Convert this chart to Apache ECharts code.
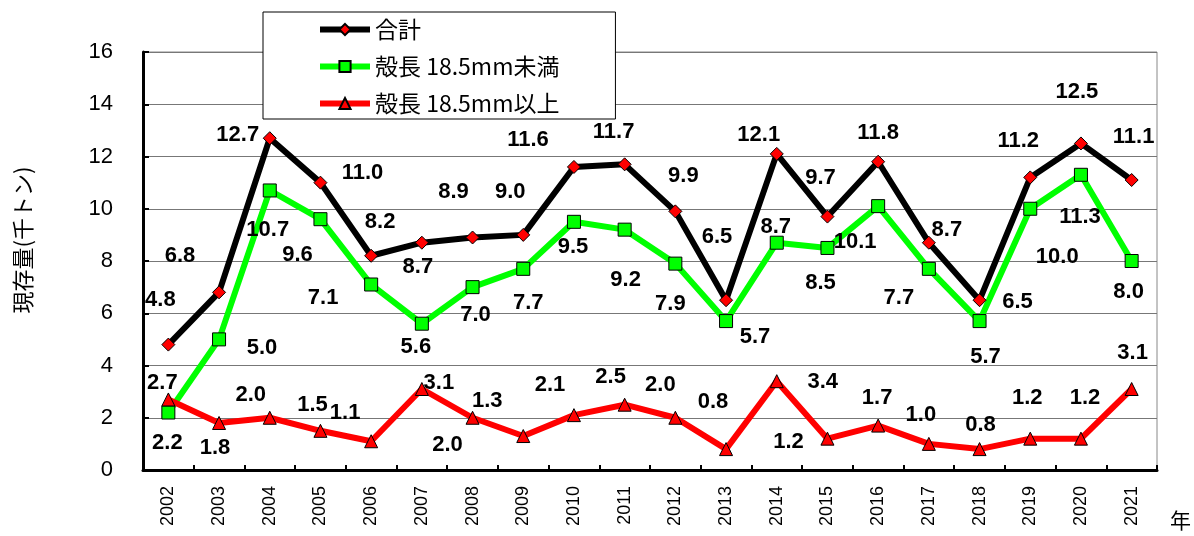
<!DOCTYPE html>
<html>
<head>
<meta charset="utf-8">
<script src="https://cdn.jsdelivr.net/npm/echarts@6/dist/echarts.min.js"></script>
<style>
    html, body { margin: 0; padding: 0; background: #fff; }
    #chart { width: 1194px; height: 536px; }
</style>
</head>
<body>
<div id="chart"></div>
<script>
    // data (千トン)
    const years = ['2002', '2003', '2004', '2005', '2006', '2007', '2008', '2009', '2010', '2011',
        '2012', '2013', '2014', '2015', '2016', '2017', '2018', '2019', '2020', '2021']
    const total = [4.8, 6.8, 12.7, 11.0, 8.2, 8.7, 8.9, 9.0, 11.6, 11.7,
        9.9, 6.5, 12.1, 9.7, 11.8, 8.7, 6.5, 11.2, 12.5, 11.1]
    const small = [2.2, 5.0, 10.7, 9.6, 7.1, 5.6, 7.0, 7.7, 9.5, 9.2,
        7.9, 5.7, 8.7, 8.5, 10.1, 7.7, 5.7, 10.0, 11.3, 8.0]
    const large = [2.7, 1.8, 2.0, 1.5, 1.1, 3.1, 2.0, 1.3, 2.1, 2.5,
        2.0, 0.8, 3.4, 1.2, 1.7, 1.0, 0.8, 1.2, 1.2, 3.1]
    const seriesNames = ['合計', '殻長 18.5mm未満', '殻長 18.5mm以上']
    const yTicks = [0, 2, 4, 6, 8, 10, 12, 14, 16]

    // where each value label sits relative to its point (px), as in the original
    const totalLabelOffset = [[-8, -45], [-39, -36], [-32, -3], [42, -10], [9, -34], [-4, 24], [-19, -46], [-13, -43], [-46, -27], [-11, -32],
        [8, -35], [-9, -63], [-18, -19], [-7, -39], [0, -29], [18, -13], [38, 2], [-12, -36], [-4, -52], [2, -43]]
    const smallLabelOffset = [[-1, 30], [43, 9], [-2, 39], [-23, 36], [-48, 13], [-6, 23], [3, 28], [5, 34], [-1, 25], [1, 50],
        [-5, 40], [29, 16], [-1, -16], [-7, 35], [-23, 36], [-30, 29], [6, 36], [27, 48], [-1, 42], [-3, 31]]
    const largeLabelOffset = [[-6, -17], [-4, 25], [-19, -23], [-8, -26], [-26, -28], [17, -6], [-25, 27], [-36, -35], [-24, -30], [-14, -28],
        [-15, -33], [-13, -47], [46, 1], [-39, 3], [-1, -28], [-8, -29], [1, -24], [-3, -41], [4, -41], [1, -36]]

    const cjk = '"Noto Sans CJK JP", "Liberation Sans", sans-serif'
    const num = '"Liberation Sans", Arial, sans-serif'

    function withLabels(values, offsets) {
        return values.map((v, i) => ({
            value: v,
            label: { offset: offsets[i] }
        }))
    }

    function makeSeries(name, values, offsets, color, symbol, symbolSize) {
        return {
            name: name,
            type: 'line',
            data: withLabels(values, offsets),
            symbol: symbol,
            symbolSize: symbolSize,
            lineStyle: { color: color, width: 6 },
            itemStyle: {
                color: symbol === 'diamond' ? '#ff0000' : color,
                borderColor: '#000',
                borderWidth: 1
            },
            label: {
                show: true,
                position: 'inside',
                formatter: (p) => p.value.toFixed(1),
                fontFamily: num,
                fontWeight: 'bold',
                fontSize: 22,
                color: '#000',
                align: 'center',
                verticalAlign: 'middle'
            },
            emphasis: { disabled: true },
            animation: false
        }
    }

    const myChart = echarts.init(document.getElementById('chart'))
    myChart.setOption({
        backgroundColor: '#fff',
        animation: false,
        grid: {
            left: 143,
            right: 37,
            top: 52,
            bottom: 66,
            show: true,
            borderColor: '#888',
            borderWidth: 1
        },
        legend: {
            orient: 'vertical',
            left: 263,
            top: 12,
            padding: [6, 56, 4, 54],
            itemGap: 14,
            itemWidth: 50,
            itemHeight: 14,
            backgroundColor: '#fff',
            borderColor: '#000',
            borderWidth: 1,
            lineStyle: { width: 6 },
            textStyle: { fontFamily: cjk, fontSize: 23, color: '#000', lineHeight: 20 },
            data: seriesNames
        },
        xAxis: {
            type: 'category',
            data: years,
            boundaryGap: true,
            axisLine: { lineStyle: { color: '#000', width: 3 } },
            axisTick: { show: true, inside: true, length: 5, interval: 0, lineStyle: { color: '#000', width: 2 } },
            axisLabel: {
                rotate: 90,
                interval: 0,
                margin: 16,
                fontFamily: num,
                fontSize: 18,
                color: '#000'
            },
            splitLine: { show: false }
        },
        yAxis: {
            type: 'value',
            min: yTicks[0],
            max: yTicks[yTicks.length - 1],
            interval: 2,
            axisLine: { show: true, lineStyle: { color: '#000', width: 3 } },
            axisTick: { show: true, inside: true, length: 6, lineStyle: { color: '#000', width: 2 } },
            axisLabel: { margin: 30, fontFamily: num, fontSize: 22, color: '#000' },
            splitLine: { show: true, lineStyle: { color: '#777', width: 1 } }
        },
        graphic: [{
            type: 'text',
            x: 23,
            y: 240,
            rotation: Math.PI / 2,
            style: { text: '現存量(千トン)', font: '22px ' + cjk, fill: '#000', align: 'center', verticalAlign: 'middle' }
        }, {
            type: 'text',
            left: 1170,
            top: 510,
            style: { text: '年', font: '21px ' + cjk, fill: '#000' }
        }],
        series: [
            makeSeries(seriesNames[0], total, totalLabelOffset, '#000000', 'diamond', 13),
            makeSeries(seriesNames[1], small, smallLabelOffset, '#00ff00', 'rect', 13),
            makeSeries(seriesNames[2], large, largeLabelOffset, '#ff0000', 'triangle', 13)
        ]
    })
</script>
</body>
</html>
